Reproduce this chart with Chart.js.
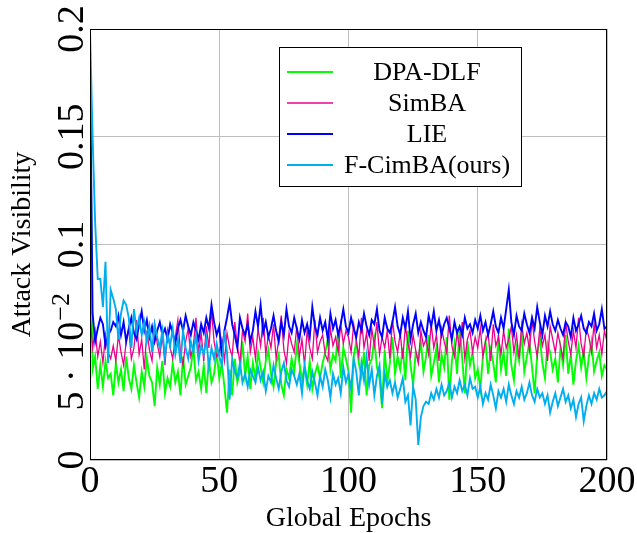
<!DOCTYPE html>
<html>
<head>
<meta charset="utf-8">
<script src="https://cdn.jsdelivr.net/npm/chart.js@4.4.0/dist/chart.umd.min.js"></script>
<style>
  body { margin: 0; background: #fff; }
  #wrap { width: 637px; height: 533px; }
</style>
</head>
<body>
<div id="wrap"><canvas id="chart" width="637" height="533"></canvas></div>
<script>
// attack visibility per global epoch
const epochs = Array.from({ length: 201 }, (_, i) => i)

const dpaDlf = [
  0.185, 0.042, 0.048, 0.033, 0.044, 0.034, 0.046, 0.038, 0.040, 0.030,
  0.045, 0.036, 0.042, 0.032, 0.048, 0.038, 0.033, 0.044, 0.036, 0.029,
  0.041, 0.034, 0.047, 0.039, 0.036, 0.025, 0.043, 0.035, 0.046, 0.031,
  0.038, 0.034, 0.045, 0.036, 0.041, 0.030, 0.048, 0.035, 0.039, 0.043,
  0.052, 0.037, 0.041, 0.033, 0.044, 0.031, 0.047, 0.036, 0.040, 0.050,
  0.038, 0.045, 0.034, 0.022, 0.042, 0.030, 0.047, 0.036, 0.041, 0.055,
  0.039, 0.048, 0.033, 0.045, 0.038, 0.050, 0.043, 0.036, 0.046, 0.051,
  0.040, 0.034, 0.045, 0.049, 0.035, 0.030, 0.042, 0.038, 0.047, 0.041,
  0.053, 0.045, 0.037, 0.043, 0.035, 0.046, 0.033, 0.040, 0.044, 0.038,
  0.045, 0.050, 0.056, 0.042, 0.049, 0.046, 0.060, 0.038, 0.052, 0.047,
  0.041, 0.022, 0.048, 0.055, 0.045, 0.039, 0.050, 0.030, 0.044, 0.047,
  0.056, 0.043, 0.038, 0.024, 0.051, 0.036, 0.045, 0.057, 0.040, 0.048,
  0.042, 0.052, 0.037, 0.060, 0.044, 0.035, 0.050, 0.046, 0.055, 0.041,
  0.048, 0.058, 0.039, 0.045, 0.052, 0.036, 0.049, 0.043, 0.057, 0.028,
  0.046, 0.054, 0.040, 0.062, 0.047, 0.031, 0.055, 0.044, 0.050, 0.038,
  0.042, 0.033, 0.048, 0.055, 0.040, 0.051, 0.045, 0.036, 0.058, 0.042,
  0.050, 0.039, 0.061, 0.044, 0.037, 0.052, 0.046, 0.059, 0.041, 0.048,
  0.055, 0.043, 0.031, 0.049, 0.057, 0.045, 0.038, 0.054, 0.050, 0.042,
  0.047, 0.036, 0.052, 0.044, 0.058, 0.040, 0.049, 0.035, 0.046, 0.053,
  0.043, 0.051, 0.038, 0.048, 0.055, 0.041, 0.046, 0.050, 0.039, 0.044, 0.042
]

const simBA = [
  0.068, 0.052, 0.060, 0.048, 0.055, 0.045, 0.058, 0.050, 0.047, 0.053,
  0.046, 0.058, 0.050, 0.044, 0.055, 0.061, 0.047, 0.052, 0.065, 0.049,
  0.056, 0.042, 0.060, 0.051, 0.046, 0.063, 0.054, 0.048, 0.058, 0.044,
  0.060, 0.052, 0.047, 0.057, 0.065, 0.050, 0.044, 0.055, 0.061, 0.048,
  0.053, 0.066, 0.050, 0.059, 0.046, 0.062, 0.052, 0.070, 0.055, 0.048,
  0.050, 0.056, 0.046, 0.059, 0.052, 0.048, 0.064, 0.053, 0.045, 0.060,
  0.055, 0.068, 0.050, 0.057, 0.047, 0.061, 0.053, 0.066, 0.049, 0.058,
  0.052, 0.063, 0.047, 0.056, 0.067, 0.051, 0.045, 0.059, 0.054, 0.050,
  0.062, 0.048, 0.056, 0.044, 0.060, 0.052, 0.047, 0.065, 0.050, 0.055,
  0.058, 0.049, 0.046, 0.061, 0.053, 0.057, 0.050, 0.063, 0.054, 0.060,
  0.057, 0.050, 0.063, 0.055, 0.048, 0.066, 0.052, 0.059, 0.046, 0.061,
  0.053, 0.064, 0.049, 0.057, 0.052, 0.060, 0.047, 0.065, 0.055, 0.050,
  0.059, 0.047, 0.062, 0.054, 0.048, 0.058, 0.051, 0.045, 0.060, 0.053,
  0.056, 0.049, 0.063, 0.052, 0.058, 0.046, 0.061, 0.055, 0.050, 0.067,
  0.053, 0.048, 0.059, 0.051, 0.064, 0.047, 0.056, 0.060, 0.050, 0.057,
  0.052, 0.061, 0.048, 0.055, 0.059, 0.046, 0.063, 0.053, 0.057, 0.049,
  0.060, 0.052, 0.056, 0.062, 0.050, 0.058, 0.047, 0.063, 0.054, 0.059,
  0.051, 0.065, 0.055, 0.048, 0.061, 0.053, 0.058, 0.046, 0.062, 0.056,
  0.050, 0.059, 0.053, 0.047, 0.064, 0.055, 0.049, 0.060, 0.052, 0.066,
  0.054, 0.048, 0.061, 0.057, 0.050, 0.063, 0.052, 0.058, 0.049, 0.060, 0.055
]

const lie = [
  0.185, 0.068, 0.055, 0.061, 0.066, 0.063, 0.053, 0.058, 0.060, 0.064,
  0.062, 0.067, 0.058, 0.064, 0.055, 0.061, 0.066, 0.059, 0.056, 0.063,
  0.069, 0.060, 0.065, 0.057, 0.062, 0.055, 0.060, 0.064, 0.058, 0.061,
  0.056, 0.063, 0.059, 0.054, 0.061, 0.065, 0.060, 0.067, 0.062, 0.058,
  0.064, 0.060, 0.056, 0.063, 0.059, 0.066, 0.061, 0.072, 0.064, 0.058,
  0.062, 0.048, 0.060, 0.066, 0.073, 0.063, 0.058, 0.052, 0.066, 0.061,
  0.058, 0.063, 0.055, 0.060, 0.069, 0.062, 0.072, 0.059, 0.064, 0.057,
  0.061, 0.067, 0.060, 0.055, 0.064, 0.058, 0.070, 0.062, 0.059, 0.066,
  0.061, 0.056, 0.065, 0.059, 0.063, 0.057, 0.071, 0.062, 0.058, 0.066,
  0.060, 0.064, 0.056, 0.068, 0.061, 0.065, 0.058, 0.063, 0.070, 0.062,
  0.059, 0.066, 0.061, 0.057, 0.064, 0.060, 0.068, 0.062, 0.058, 0.065,
  0.063, 0.070, 0.060, 0.057, 0.066, 0.061, 0.059, 0.064, 0.071, 0.062,
  0.058, 0.066, 0.061, 0.069, 0.056, 0.063, 0.068, 0.059, 0.064, 0.060,
  0.057, 0.067, 0.062, 0.069, 0.060, 0.065, 0.058, 0.063, 0.066, 0.061,
  0.056, 0.064, 0.059, 0.062, 0.058, 0.066, 0.061, 0.063, 0.059, 0.065,
  0.061, 0.067, 0.060, 0.064, 0.058, 0.063, 0.069, 0.062, 0.059, 0.066,
  0.061, 0.070, 0.079, 0.064, 0.058, 0.067, 0.062, 0.060, 0.068, 0.063,
  0.059, 0.066, 0.061, 0.071, 0.064, 0.058, 0.067, 0.062, 0.069, 0.063,
  0.060, 0.065, 0.061, 0.058, 0.064, 0.062, 0.057, 0.066, 0.060, 0.063,
  0.067, 0.061, 0.059, 0.064, 0.062, 0.068, 0.060, 0.063, 0.070, 0.061, 0.062
]

const fCimBA = [
  0.200, 0.150, 0.110, 0.084, 0.084, 0.071, 0.092, 0.045, 0.079, 0.075,
  0.070, 0.056, 0.068, 0.074, 0.072, 0.066, 0.052, 0.070, 0.060, 0.066,
  0.058, 0.064, 0.055, 0.062, 0.050, 0.063, 0.057, 0.052, 0.060, 0.048,
  0.058, 0.053, 0.061, 0.049, 0.056, 0.045, 0.060, 0.052, 0.047, 0.055,
  0.050, 0.058, 0.046, 0.053, 0.049, 0.056, 0.043, 0.052, 0.047, 0.054,
  0.048, 0.044, 0.060, 0.050, 0.028, 0.047, 0.041, 0.038, 0.045, 0.036,
  0.040, 0.034, 0.042, 0.039, 0.036, 0.043, 0.037, 0.041, 0.032, 0.039,
  0.036, 0.044, 0.038, 0.033, 0.041, 0.045, 0.037, 0.034, 0.042, 0.039,
  0.035, 0.040, 0.031, 0.044, 0.037, 0.033, 0.041, 0.036, 0.030, 0.039,
  0.034, 0.042, 0.037, 0.029, 0.040, 0.035, 0.038, 0.031, 0.043, 0.036,
  0.040, 0.033, 0.047, 0.041, 0.030, 0.045, 0.037, 0.048, 0.035, 0.042,
  0.030, 0.039, 0.044, 0.026, 0.040, 0.034, 0.037, 0.031, 0.036, 0.029,
  0.033, 0.038, 0.027, 0.030, 0.016, 0.034, 0.028, 0.007, 0.020, 0.025,
  0.027, 0.026, 0.031, 0.028, 0.033, 0.029, 0.035, 0.030, 0.032, 0.036,
  0.029, 0.034, 0.031, 0.037, 0.032, 0.035, 0.030, 0.038, 0.033, 0.034,
  0.029, 0.034, 0.026, 0.031, 0.028, 0.035, 0.030, 0.024, 0.032, 0.029,
  0.033, 0.027, 0.035, 0.030, 0.026, 0.032, 0.029, 0.034, 0.028, 0.031,
  0.036, 0.030, 0.027, 0.033, 0.029, 0.031, 0.026, 0.030, 0.022, 0.027,
  0.031, 0.025, 0.029, 0.033, 0.027, 0.030, 0.024, 0.028, 0.020, 0.026,
  0.029, 0.018, 0.025, 0.030, 0.026, 0.031, 0.028, 0.033, 0.029, 0.030, 0.032
]

const xTicks = [0, 50, 100, 150, 200]
const yTicks = [0, 0.05, 0.1, 0.15, 0.2]
const yTickLabels = ['0', '5 \u00b7 10^\u22122', '0.1', '0.15', '0.2']

const serif = '"Liberation Serif", "DejaVu Serif", serif'

function toPoints(values) {
  return values.map((v, i) => ({ x: epochs[i], y: v }))
}

// ticks, titles, frame and legend drawn the pgfplots way
const texDecor = {
  id: 'texDecor',
  afterDraw(chart) {
    const ctx = chart.ctx
    const area = chart.chartArea
    const xs = chart.scales.x
    const ys = chart.scales.y
    ctx.save()

    // frame
    ctx.strokeStyle = '#000'
    ctx.lineWidth = 1
    ctx.strokeRect(area.left + 0.5, area.top + 0.5, area.right - area.left - 1, area.bottom - area.top - 1)

    ctx.fillStyle = '#000'

    // x tick labels
    ctx.font = '38px ' + serif
    ctx.textAlign = 'center'
    ctx.textBaseline = 'alphabetic'
    xTicks.forEach(t => {
      ctx.fillText(String(t), xs.getPixelForValue(t), 492)
    })

    // y tick labels (rotated)
    yTicks.forEach((t, i) => {
      const py = ys.getPixelForValue(t)
      ctx.save()
      ctx.translate(83, py)
      ctx.rotate(-Math.PI / 2)
      const label = yTickLabels[i]
      if (label.includes('^')) {
        const [base, sup] = label.split('^')
        ctx.font = '38px ' + serif
        const wb = ctx.measureText(base).width
        ctx.font = '26px ' + serif
        const ws = ctx.measureText(sup).width
        const start = -(wb + ws) / 2
        ctx.textAlign = 'left'
        ctx.font = '38px ' + serif
        ctx.fillText(base, start, 0)
        ctx.font = '26px ' + serif
        ctx.fillText(sup, start + wb + 1, -14)
      } else {
        ctx.font = '38px ' + serif
        ctx.textAlign = 'center'
        ctx.fillText(label, 0, 0)
      }
      ctx.restore()
    })

    // axis titles
    ctx.font = '28px ' + serif
    ctx.textAlign = 'center'
    ctx.fillText('Global Epochs', (area.left + area.right) / 2, 526)
    ctx.save()
    ctx.translate(30, (area.top + area.bottom) / 2)
    ctx.rotate(-Math.PI / 2)
    ctx.fillText('Attack Visibility', 0, 0)
    ctx.restore()

    // legend
    const lx = 279, ly = 47, lw = 242, lh = 139
    ctx.fillStyle = '#fff'
    ctx.fillRect(lx, ly, lw, lh)
    ctx.strokeStyle = '#000'
    ctx.lineWidth = 1
    ctx.strokeRect(lx + 0.5, ly + 0.5, lw, lh)
    ctx.font = '26px ' + serif
    ctx.textAlign = 'center'
    ctx.textBaseline = 'middle'
    chart.data.datasets.forEach((ds, i) => {
      const rowY = 72 + i * 31
      ctx.strokeStyle = ds.borderColor
      ctx.lineWidth = ds.borderWidth
      ctx.beginPath()
      ctx.moveTo(287, rowY)
      ctx.lineTo(333, rowY)
      ctx.stroke()
      ctx.fillStyle = '#000'
      ctx.fillText(ds.label, 427, rowY + 1)
    })

    ctx.restore()
  }
}

new Chart(document.getElementById('chart'), {
  type: 'line',
  data: {
    datasets: [
      { label: 'DPA-DLF', data: toPoints(dpaDlf), borderColor: 'rgb(0,255,0)', borderWidth: 1.9, order: 3 },
      { label: 'SimBA', data: toPoints(simBA), borderColor: 'rgb(236,0,140)', borderWidth: 1.3, order: 2 },
      { label: 'LIE', data: toPoints(lie), borderColor: 'rgb(0,0,255)', borderWidth: 1.9, order: 1 },
      { label: 'F-CimBA(ours)', data: toPoints(fCimBA), borderColor: 'rgb(0,174,239)', borderWidth: 1.9, order: 0 }
    ]
  },
  options: {
    responsive: false,
    animation: false,
    layout: { padding: { left: 90, right: 30, top: 29, bottom: 73 } },
    elements: {
      point: { radius: 0 },
      line: { tension: 0, fill: false }
    },
    plugins: {
      legend: { display: false },
      tooltip: { enabled: false }
    },
    scales: {
      x: {
        type: 'linear',
        min: 0,
        max: 200,
        afterBuildTicks: (s) => { s.ticks = xTicks.map(v => ({ value: v })) },
        afterFit: (s) => { s.height = 0 },
        ticks: { display: false },
        border: { display: false },
        grid: { color: 'rgb(190,190,190)', lineWidth: 1, drawTicks: false }
      },
      y: {
        type: 'linear',
        min: 0,
        max: 0.2,
        afterBuildTicks: (s) => { s.ticks = yTicks.map(v => ({ value: v })) },
        afterFit: (s) => { s.width = 0 },
        ticks: { display: false },
        border: { display: false },
        grid: { color: 'rgb(190,190,190)', lineWidth: 1, drawTicks: false }
      }
    }
  },
  plugins: [texDecor]
})
</script>
</body>
</html>
